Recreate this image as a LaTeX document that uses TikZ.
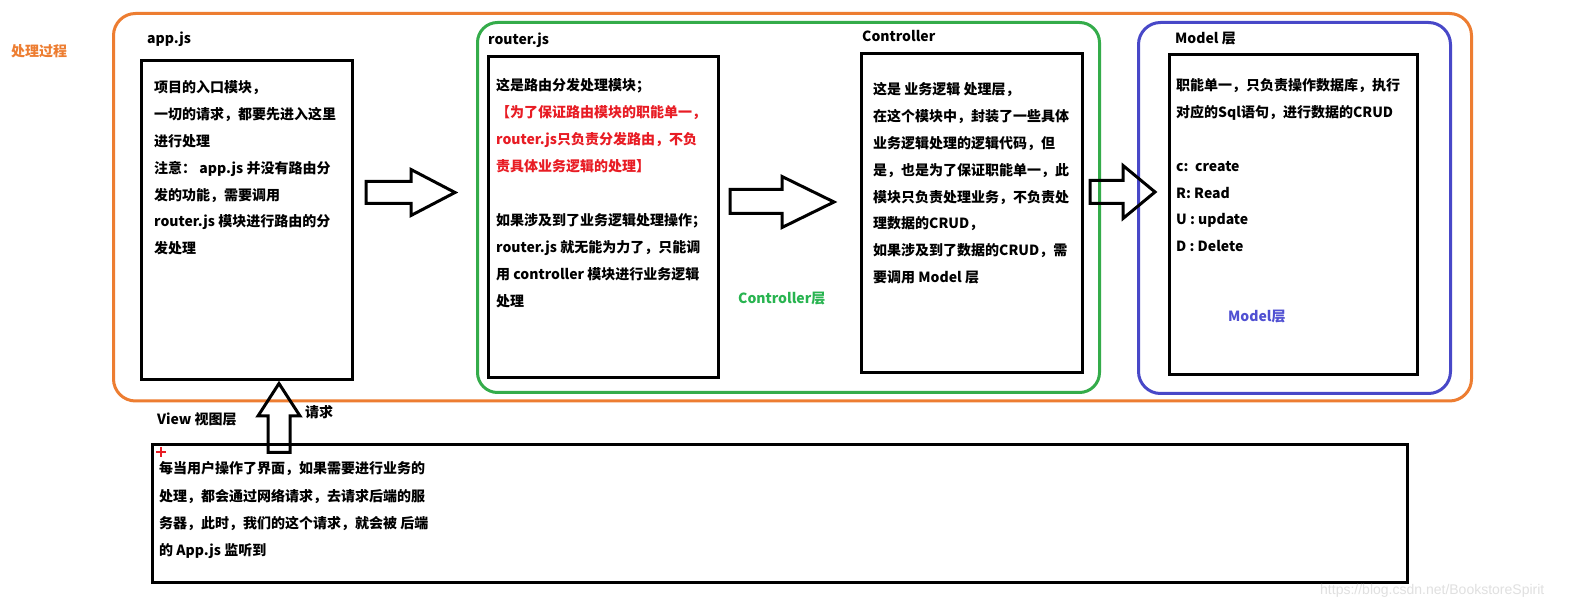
\documentclass[tikz,border=0pt]{standalone}
\usepackage{fontspec}
\setmainfont{Noto Sans CJK SC}
\newfontfamily\wmfont{Liberation Sans}
\definecolor{orangeC}{RGB}{237,125,49}
\definecolor{greenC}{RGB}{52,172,74}
\definecolor{blueC}{RGB}{72,72,200}
\definecolor{redC}{RGB}{232,28,36}
\definecolor{textGreen}{RGB}{40,180,80}
\definecolor{textBlue}{RGB}{80,80,210}
\begin{document}
\begin{tikzpicture}[x=1pt,y=-1pt,
  txt/.style={anchor=west, inner sep=0pt, font=\fontsize{14}{16}\selectfont\bfseries, text height=12pt, text depth=2pt},
  blk/.style={draw=black, line width=3pt, anchor=north west, inner sep=0pt},
  harrow/.style={draw=black, line width=3pt, line join=miter},
  group/.style={line width=3pt}]
\useasboundingbox[fill=white] (0,0) rectangle (1583,609);

% containers
\draw[group, draw=orangeC, rounded corners=22pt] (113.5,13.5) rectangle (1471.5,401);
\draw[group, draw=greenC, rounded corners=20pt] (477.5,22.5) rectangle (1099.5,392.5);
\draw[group, draw=blueC, rounded corners=22pt] (1138.5,22.5) rectangle (1450.5,393.5);

% boxes
\node[blk, minimum width=211pt, minimum height=319pt] (app) at (139.5,59.5) {};
\node[blk, minimum width=230pt, minimum height=321pt] (router) at (486.5,55.5) {};
\node[blk, minimum width=221pt, minimum height=319pt] (ctrl) at (859.5,52.5) {};
\node[blk, minimum width=248pt, minimum height=320pt] (model) at (1167.5,53.5) {};
\node[blk, minimum width=1255pt, minimum height=137pt] (view) at (150.5,443.5) {};

% labels
\node[txt] (lproc) at (11,52) {\color{orangeC}处理过程};
\node[txt] (lapp) at (147,39) {app.js};
\node[txt] (lrouter) at (488,40) {router.js};
\node[txt] (lctrl) at (862,37) {Controller};
\node[txt] (lmodel) at (1175,39) {Model 层};
\node[txt] (lview) at (157,420) {View 视图层};
\node[txt] (lreq) at (305,413) {请求};
\node[txt] (lctrllayer) at (738,299) {\color{textGreen}Controller层};
\node[txt] (lmodellayer) at (1228,317) {\color{textBlue}Model层};

% app text
\foreach \k/\t [count=\i] in {0/{项目的入口模块，},1/{一切的请求，都要先进入这里},2/{进行处理},3/{注意： app.js 并没有路由分},4/{发的功能，需要调用},5/{router.js 模块进行路由的分},6/{发处理}}
  \node[txt] (appt\i) at (154,88+26.8*\k) {\t};

% router text
\foreach \k/\t [count=\i] in {0/{这是路由分发处理模块；},1/{\color{redC}【为了保证路由模块的职能单一，},2/{\color{redC}router.js只负责分发路由，不负},3/{\color{redC}责具体业务逻辑的处理】},5/{如果涉及到了业务逻辑处理操作；},6/{router.js 就无能为力了，只能调},7/{用 controller 模块进行业务逻辑},8/{处理}}
  \node[txt] (rt\i) at (496,86+26.9*\k) {\t};

% controller text
\foreach \k/\t [count=\i] in {0/{这是 业务逻辑 处理层，},1/{在这个模块中，封装了一些具体},2/{业务逻辑处理的逻辑代码，但},3/{是，也是为了保证职能单一，此},4/{模块只负责处理业务，不负责处},5/{理数据的CRUD，},6/{如果涉及到了数据的CRUD，需},7/{要调用 Model 层}}
  \node[txt] (ct\i) at (873,90+26.8*\k) {\t};

% model text
\foreach \k/\t [count=\i] in {0/{职能单一，只负责操作数据库，执行},1/{对应的Sql语句，进行数据的CRUD},3/{c:\ \ create},4/{R: Read},5/{U : update},6/{D : Delete}}
  \node[txt] (mt\i) at (1176,86+26.8*\k) {\t};

% view text
\foreach \k/\t [count=\i] in {0/{每当用户操作了界面，如果需要进行业务的},1/{处理，都会通过网络请求，去请求后端的服},2/{务器，此时，我们的这个请求，就会被 后端},3/{的 App.js 监听到}}
  \node[txt] (vt\i) at (159,469+27*\k) {\t};

% block arrows
\draw[harrow] (366,181.5) -- (411,181.5) -- (411,169.5) -- (455,192.5) -- (411,215.5) -- (411,203.5) -- (366,203.5) -- cycle;
\draw[harrow] (730,189.5) -- (782,189.5) -- (782,176.5) -- (834,202) -- (782,227.5) -- (782,213.5) -- (730,213.5) -- cycle;
\draw[harrow] (1090,180.5) -- (1123,180.5) -- (1123,165.5) -- (1155,192) -- (1123,218.5) -- (1123,203.5) -- (1090,203.5) -- cycle;
\draw[harrow] (279,383.5) -- (300,416) -- (290,416) -- (290,452.5) -- (268,452.5) -- (268,416) -- (258,416) -- cycle;

% red cursor mark
\draw[redC, line width=2pt] (156,452) -- (166,452) (161,447) -- (161,457);

% watermark
\node[anchor=west, inner sep=0pt, font=\wmfont\fontsize{14}{16}\selectfont, text=black!12] (wm) at (1320,591) {https://blog.csdn.net/BookstoreSpirit};
\end{tikzpicture}
\end{document}
